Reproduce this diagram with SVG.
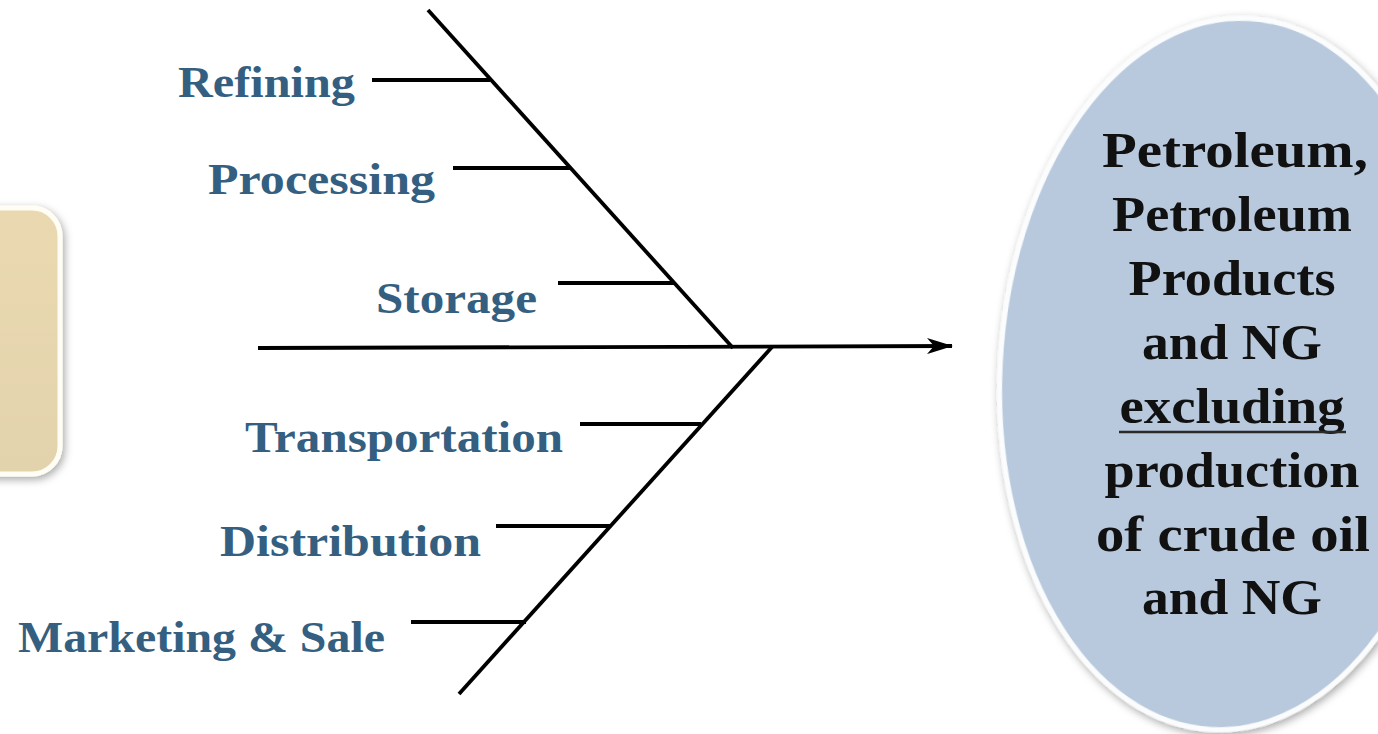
<svg xmlns="http://www.w3.org/2000/svg" width="1378" height="734" viewBox="0 0 1378 734">
<style>
.lbl{font-family:"Liberation Serif","Times New Roman",serif;font-weight:bold;font-size:44px;fill:#355f80}
.etx{font-family:"Liberation Serif","Times New Roman",serif;font-weight:bold;font-size:50px;fill:#111;text-anchor:middle}
.bone{stroke:#000;stroke-width:3.8;fill:none;stroke-linecap:butt}
</style>
<defs>
<filter id="sh" x="-20%" y="-20%" width="140%" height="140%">
<feDropShadow dx="2" dy="3" stdDeviation="4" flood-color="#000" flood-opacity="0.35"/>
</filter>
<linearGradient id="beige" x1="0" y1="0" x2="0" y2="1">
<stop offset="0" stop-color="#ead9b0"/>
<stop offset="1" stop-color="#e3d3ad"/>
</linearGradient>
<marker id="arr" viewBox="0 0 26 16" refX="25" refY="8" markerWidth="26" markerHeight="16" markerUnits="userSpaceOnUse" orient="auto">
<path d="M0,0 L26,8 L0,16 L7,8 Z" fill="#000"/>
</marker>
</defs>
<rect width="1378" height="734" fill="#fff"/>
<g id="left-box">
<rect x="-40" y="208" width="100" height="266" rx="28" fill="url(#beige)" stroke="#fffdf4" stroke-width="5" filter="url(#sh)"/>
</g>
<g id="effect">
<ellipse cx="1230" cy="374" rx="230" ry="356" transform="rotate(3 1230 374)" fill="#b8c9dd" stroke="#fbfcfd" stroke-width="5" filter="url(#sh)"/>
<text class="etx" x="1235" y="167" textLength="266" lengthAdjust="spacingAndGlyphs">Petroleum,</text>
<text class="etx" x="1232" y="231" textLength="240" lengthAdjust="spacingAndGlyphs">Petroleum</text>
<text class="etx" x="1232" y="295" textLength="207" lengthAdjust="spacingAndGlyphs">Products</text>
<text class="etx" x="1232" y="359" textLength="180" lengthAdjust="spacingAndGlyphs">and NG</text>
<text class="etx" x="1232" y="423" textLength="225" lengthAdjust="spacingAndGlyphs">excluding</text>
<line x1="1119" y1="432" x2="1346" y2="432" stroke="#2a2a2a" stroke-width="2.5"/>
<text class="etx" x="1232" y="487" textLength="255" lengthAdjust="spacingAndGlyphs">production</text>
<text class="etx" x="1233" y="551" textLength="274" lengthAdjust="spacingAndGlyphs">of  crude oil</text>
<text class="etx" x="1232" y="614" textLength="180" lengthAdjust="spacingAndGlyphs">and NG</text>
</g>
<g id="connectors">
<line class="bone" x1="258" y1="348" x2="952" y2="346" marker-end="url(#arr)"/>
<line class="bone" x1="428" y1="10" x2="733" y2="348"/>
<line class="bone" x1="772" y1="347" x2="459" y2="694"/>
<line class="bone" x1="372" y1="80" x2="490" y2="80"/>
<line class="bone" x1="453" y1="168" x2="570" y2="168"/>
<line class="bone" x1="558" y1="283" x2="674" y2="283"/>
<line class="bone" x1="580" y1="424" x2="701" y2="424"/>
<line class="bone" x1="496" y1="526" x2="610" y2="526"/>
<line class="bone" x1="411" y1="622" x2="526" y2="622"/>
</g>
<g id="cause-refining"><text class="lbl" x="178" y="97" textLength="177" lengthAdjust="spacingAndGlyphs">Refining</text></g>
<g id="cause-processing"><text class="lbl" x="208" y="194" textLength="227" lengthAdjust="spacingAndGlyphs">Processing</text></g>
<g id="cause-storage"><text class="lbl" x="376" y="313" textLength="161" lengthAdjust="spacingAndGlyphs">Storage</text></g>
<g id="cause-transportation"><text class="lbl" x="245" y="452" textLength="318" lengthAdjust="spacingAndGlyphs">Transportation</text></g>
<g id="cause-distribution"><text class="lbl" x="220" y="556" textLength="261" lengthAdjust="spacingAndGlyphs">Distribution</text></g>
<g id="cause-marketing"><text class="lbl" x="18" y="652" textLength="367" lengthAdjust="spacingAndGlyphs">Marketing &amp; Sale</text></g>
</svg>
